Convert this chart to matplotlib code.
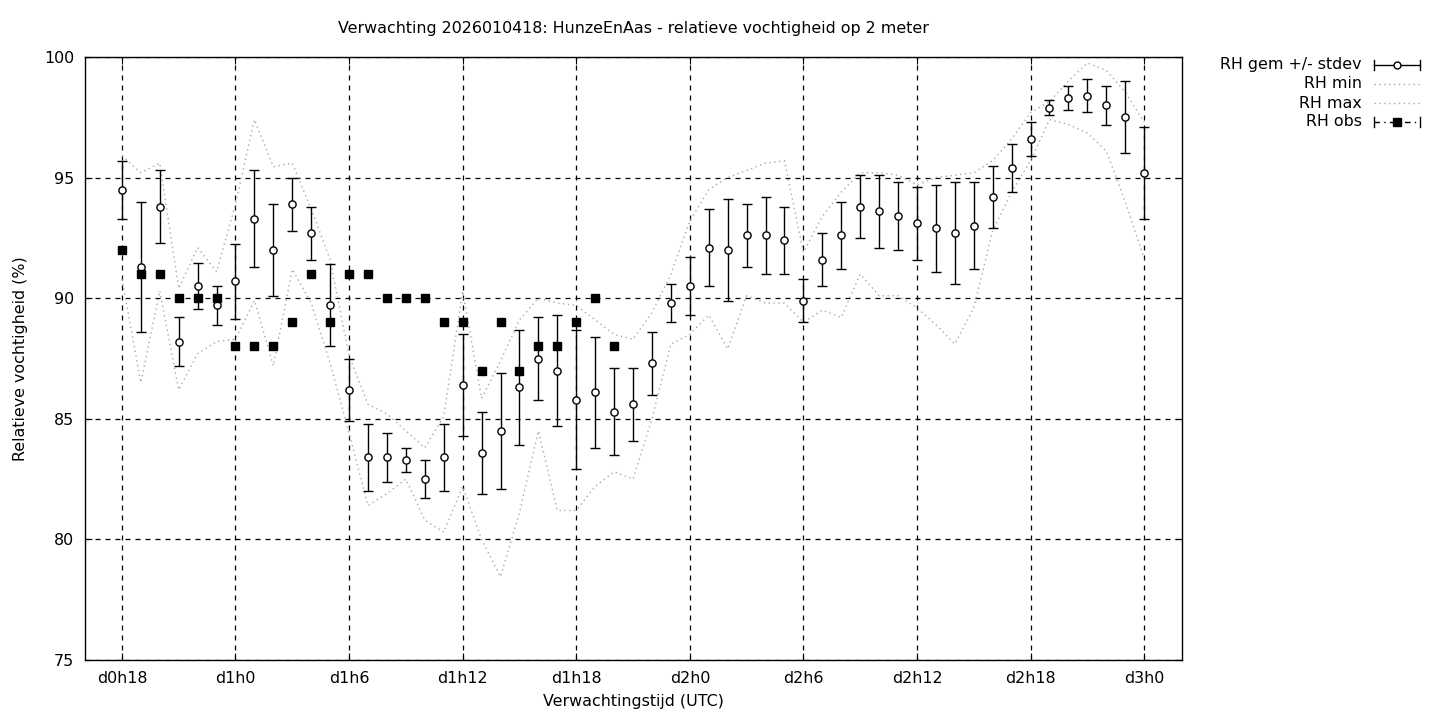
import matplotlib
matplotlib.use("Agg")
import matplotlib.pyplot as plt
from matplotlib.lines import Line2D

# forecast hours since d0h0
hours = list(range(18, 73))

rh_mean = [94.5, 91.3, 93.8, 88.2, 90.5, 89.7, 90.7, 93.3, 92.0, 93.9,
           92.7, 89.7, 86.2, 83.4, 83.4, 83.3, 82.5, 83.4, 86.4, 83.6,
           84.5, 86.3, 87.5, 87.0, 85.8, 86.1, 85.3, 85.6, 87.3, 89.8,
           90.5, 92.1, 92.0, 92.6, 92.6, 92.4, 89.9, 91.6, 92.6, 93.8,
           93.6, 93.4, 93.1, 92.9, 92.7, 93.0, 94.2, 95.4, 96.6, 97.9,
           98.3, 98.4, 98.0, 97.5, 95.2]
rh_std = [1.2, 2.7, 1.5, 1.0, 0.95, 0.8, 1.55, 2.0, 1.9, 1.1,
          1.1, 1.7, 1.3, 1.4, 1.0, 0.5, 0.8, 1.4, 2.1, 1.7,
          2.4, 2.4, 1.7, 2.3, 2.9, 2.3, 1.8, 1.5, 1.3, 0.8,
          1.2, 1.6, 2.1, 1.3, 1.6, 1.4, 0.9, 1.1, 1.4, 1.3,
          1.5, 1.4, 1.5, 1.8, 2.1, 1.8, 1.3, 1.0, 0.7, 0.3,
          0.5, 0.7, 0.8, 1.5, 1.9]
rh_min = [90.8, 86.5, 90.3, 86.2, 87.7, 88.2, 88.3, 89.9, 87.2, 91.2,
          89.8, 87.3, 84.4, 81.4, 81.9, 82.5, 80.8, 80.3, 82.2, 80.0,
          78.45, 81.1, 84.5, 81.2, 81.2, 82.2, 82.8, 82.5, 85.0, 88.1,
          88.5, 89.3, 87.9, 90.1, 89.8, 89.8, 89.0, 89.5, 89.2, 91.0,
          90.1, 90.1, 89.6, 88.9, 88.1, 89.6, 92.8, 94.4, 95.7, 97.4,
          97.2, 96.85, 96.1, 94.0, 91.65]
rh_max = [95.9, 95.2, 95.6, 90.4, 92.1, 91.1, 93.9, 97.4, 95.45, 95.6,
          93.7, 91.6, 87.6, 85.6, 85.2, 84.5, 83.8, 85.1, 90.3, 85.85,
          87.4, 89.1, 90.0, 89.8, 89.7, 89.1, 88.5, 88.3, 89.4, 91.0,
          93.2, 94.5, 95.0, 95.3, 95.6, 95.7, 91.9, 93.4, 94.4, 95.2,
          95.2, 95.1, 94.7, 95.0, 95.1, 95.2, 95.7, 96.6, 97.7, 98.15,
          99.0, 99.75, 99.45, 98.55, 97.3]
obs_hours = list(range(18, 45))
rh_obs = [92, 91, 91, 90, 90, 90, 88, 88, 88, 89,
          91, 89, 91, 91, 90, 90, 90, 89, 89, 87,
          89, 87, 88, 88, 89, 90, 88]

tick_hours = [18, 24, 30, 36, 42, 48, 54, 60, 66, 72]
tick_labels = ["d0h18", "d1h0", "d1h6", "d1h12", "d1h18", "d2h0",
               "d2h6", "d2h12", "d2h18", "d3h0"]
y_ticks = [75, 80, 85, 90, 95, 100]

FS = 11.4
plt.rcParams['font.family'] = ['DejaVu Sans']
plt.rcParams['font.size'] = FS

fig = plt.figure(figsize=(14.4, 7.2), dpi=100)
ax = fig.add_axes([85/1440, 60/720, (1182-85)/1440, (660-57)/720])

grey = "#a8a8a8"
ax.plot(hours, rh_min, linestyle=(0, (1, 2.5)), color=grey, lw=1.0, zorder=2)
ax.plot(hours, rh_max, linestyle=(0, (1, 2.5)), color=grey, lw=1.0, zorder=2)

ax.errorbar(hours, rh_mean, yerr=rh_std, fmt='o', color='black',
            mfc='white', mec='black', ms=5.2, mew=1.0, elinewidth=1.0,
            capsize=3.3, capthick=1.0, zorder=4)
ax.plot(obs_hours, rh_obs, 's', color='black', ms=5.5, linestyle='none', zorder=5)

ax.set_xlim(16.05, 74.0)
ax.set_ylim(75, 100)
ax.set_xticks(tick_hours)
ax.set_xticklabels(tick_labels)
ax.set_yticks(y_ticks)
ax.grid(True, color='black', linestyle=(0, (4, 4)), linewidth=0.9)
ax.tick_params(direction='in', length=5, top=True, right=True, pad=8,
               labelsize=FS)
for s in ax.spines.values():
    s.set_linewidth(1.0)

ax.set_title("Verwachting 2026010418: HunzeEnAas - relatieve vochtigheid op 2 meter",
             fontsize=FS, pad=17)
ax.set_xlabel("Verwachtingstijd (UTC)", fontsize=FS, labelpad=6)
ax.set_ylabel("Relatieve vochtigheid (%)", fontsize=FS, labelpad=11)

# manual legend (gnuplot style, right-aligned text, sample to the right)
labels = ["RH gem +/- stdev", "RH min", "RH max", "RH obs"]
ys = [65, 84, 103, 122]
x_txt = 1362 / 1440
x0, x1 = 1374 / 1440, 1420 / 1440
xm = (x0 + x1) / 2
for lab, yp in zip(labels, ys):
    yf = 1 - yp / 720
    fig.text(x_txt, yf, lab, ha='right', va='center', fontsize=FS)
    if lab == "RH gem +/- stdev":
        fig.add_artist(Line2D([x0, x1], [yf, yf], color='black', lw=1.0,
                              transform=fig.transFigure))
        fig.add_artist(Line2D([xm], [yf], marker='o', color='black', mfc='white',
                              ms=5.0, transform=fig.transFigure))
    elif lab == "RH obs":
        fig.add_artist(Line2D([x0, x1], [yf, yf], color='black', lw=1.0,
                              linestyle=(0, (4, 3, 1, 3)), transform=fig.transFigure))
        fig.add_artist(Line2D([xm], [yf], marker='s', color='black',
                              ms=5.5, transform=fig.transFigure))
    else:
        fig.add_artist(Line2D([x0, x1], [yf, yf], color=grey, lw=1.0,
                              linestyle=(0, (1, 2.5)), transform=fig.transFigure))
    if lab in ("RH gem +/- stdev", "RH obs"):
        for xe in (x0, x1):
            fig.add_artist(Line2D([xe, xe], [yf - 5/720, yf + 5/720], color='black',
                                  lw=1.0, transform=fig.transFigure))

fig.savefig("out.png", dpi=100)
